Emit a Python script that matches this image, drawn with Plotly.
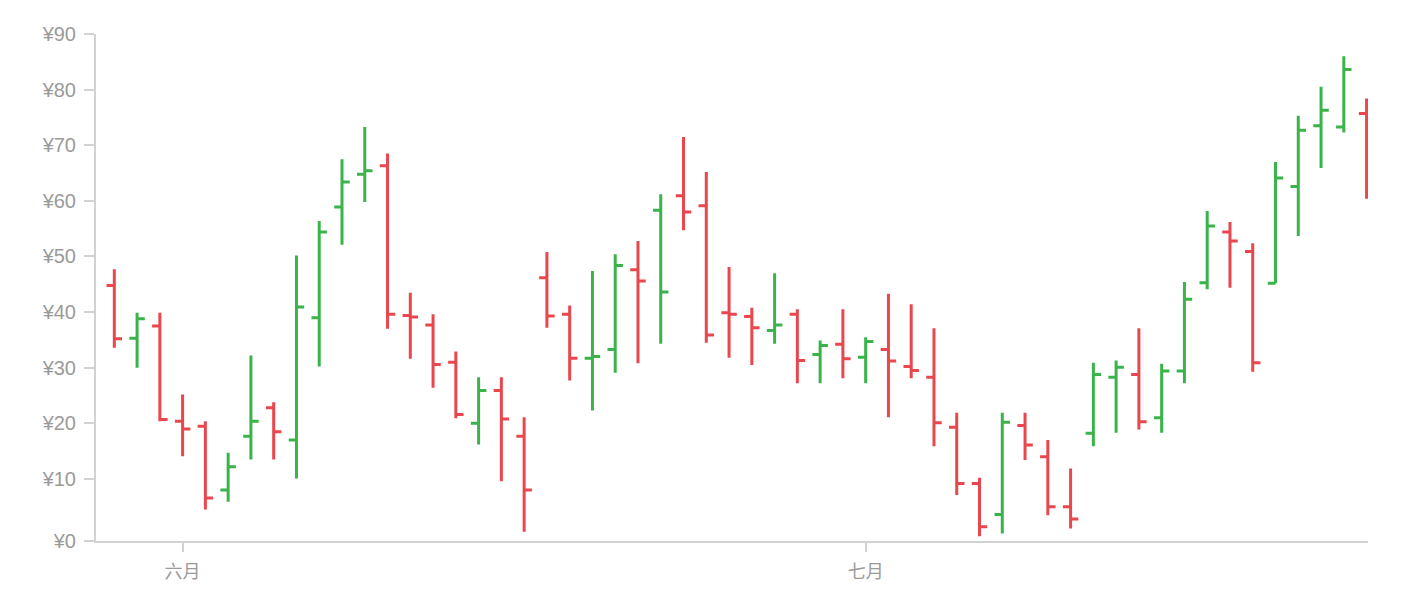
import pandas as pd
import plotly.graph_objects as go

# ---- data ----
start_date = "2024-05-29"
open_ = [44.8, 35.3, 37.5, 20.4, 19.5, 8.0, 17.7, 22.8, 17.0, 39.0, 58.9, 64.8, 66.3, 39.4, 37.7, 31.0, 20.0, 25.9, 17.7,
         46.2, 39.6, 31.7, 33.3, 47.6, 58.3, 60.9, 59.1, 39.9, 39.2, 36.7,
         39.6, 32.4, 34.2, 31.9, 33.3, 30.2, 28.3, 19.3, 9.2, 3.6,
         19.6, 14.0, 5.0,
         18.2, 28.3, 28.8, 21.0, 29.4, 45.3, 54.4, 50.9, 45.2, 62.6, 73.5, 73.3, 75.7]
high = [47.7, 39.9, 39.9, 25.2, 20.4, 14.7, 32.2, 23.8, 50.2, 56.4, 67.5, 73.3, 68.5, 43.5, 39.6, 32.9, 28.3, 28.3, 21.1,
        50.8, 41.2, 47.4, 50.4, 52.8, 61.2, 71.5, 65.2, 48.1, 40.8, 47.0,
        40.5, 34.9, 40.5, 35.5, 43.3, 41.4, 37.1, 21.9, 10.2, 21.9,
        21.9, 17.0, 11.9,
        30.9, 31.3, 37.1, 30.7, 45.4, 58.2, 56.2, 52.4, 67.0, 75.3, 80.5, 86.0, 78.4]
low = [33.6, 30.0, 20.4, 14.1, 4.5, 5.9, 13.5, 13.5, 10.1, 30.2, 52.1, 59.8, 37.0, 31.6, 26.4, 20.9, 16.2, 9.6, 0.5,
       37.2, 27.7, 22.3, 29.1, 30.8, 34.3, 54.7, 34.5, 31.8, 30.5, 34.3,
       27.2, 27.2, 28.1, 27.2, 21.1, 28.1, 15.9, 7.1, -0.3, 0.2,
       13.4, 3.5, 1.1,
       15.9, 18.3, 18.9, 18.3, 27.2, 44.1, 44.4, 29.3, 45.2, 53.7, 65.9, 72.3, 60.4]
close = [35.2, 38.8, 20.7, 19.0, 6.6, 12.2, 20.4, 18.5, 40.9, 54.4, 63.4, 65.4, 39.6, 39.1, 30.6, 21.6, 25.9, 20.8, 8.0,
         39.3, 31.7, 32.0, 48.4, 45.6, 43.6, 58.0, 35.9, 39.6, 37.2, 37.7,
         31.3, 34.0, 31.6, 34.7, 31.2, 29.5, 20.1, 9.2, 1.4, 20.2,
         16.1, 5.0, 2.8,
         28.8, 30.1, 20.3, 29.4, 42.3, 55.5, 52.8, 30.9, 64.1, 72.7, 76.3, 83.6, 70.6]
direction = ["down", "up", "down", "down", "down", "up", "up", "down", "up", "up", "up", "up", "down", "down", "down",
             "down", "up", "down", "down",
             "down", "down", "up", "up", "down", "up", "down", "down", "down", "down", "up",
             "down", "up", "down", "up", "down", "down", "down", "down", "down", "up",
             "down", "down", "down",
             "up", "up", "down", "up", "up", "up", "down", "down", "up", "up", "up", "up", "down"]
month_ticks = ["2024-06-01", "2024-07-01"]
month_labels = ["六月", "七月"]
price_ticks = [10, 20, 30, 40, 50, 60, 70, 80, 90]
price_labels = ["¥10", "¥20", "¥30", "¥40", "¥50", "¥60", "¥70", "¥80", "¥90"]

dates = pd.date_range(start_date, periods=len(open_), freq="D")
df = pd.DataFrame({"date": dates, "open": open_, "high": high, "low": low,
                   "close": close, "dir": direction})

RED = "#e8474d"
GREEN = "#3ab44a"

fig = go.Figure()
for key, col in (("down", RED), ("up", GREEN)):
    sub = df[df["dir"] == key]
    fig.add_trace(go.Ohlc(
        x=sub["date"], open=sub["open"], high=sub["high"], low=sub["low"], close=sub["close"],
        increasing=dict(line=dict(color=col, width=3)),
        decreasing=dict(line=dict(color=col, width=3)),
        tickwidth=0.34, hoverinfo="skip", showlegend=False,
    ))

y_bottom = -1.15
font_family = "Liberation Sans, Arial, Noto Sans CJK SC, sans-serif"
axis_col = "#d2d2d2"
text_col = "#9a9a9a"

fig.update_layout(
    width=1418, height=600,
    margin=dict(l=88, r=58, t=26, b=67),
    paper_bgcolor="white", plot_bgcolor="white",
    font=dict(family=font_family, size=18, color=text_col),
    xaxis=dict(
        type="date",
        range=[dates[0] - pd.Timedelta(hours=19.3), dates[-1] + pd.Timedelta(hours=1.5)],
        rangeslider=dict(visible=False),
        showgrid=False, zeroline=False,
        showline=True, linecolor=axis_col, linewidth=2,
        ticks="outside", ticklen=9, tickwidth=1.5, tickcolor=axis_col,
        tickvals=month_ticks, ticktext=month_labels,
        ticklabelstandoff=4,
        tickfont=dict(size=18, color=text_col, family="Noto Sans CJK SC, sans-serif"),
    ),
    yaxis=dict(
        range=[y_bottom, 90],
        showgrid=False, zeroline=False,
        showline=True, linecolor=axis_col, linewidth=2,
        ticks="outside", ticklen=10, tickwidth=1.5, tickcolor=axis_col,
        tickvals=[y_bottom] + price_ticks, ticktext=["¥0"] + price_labels,
        ticklabelstandoff=4,
        tickfont=dict(size=20, color=text_col),
    ),
)

fig.write_html("out.html")
